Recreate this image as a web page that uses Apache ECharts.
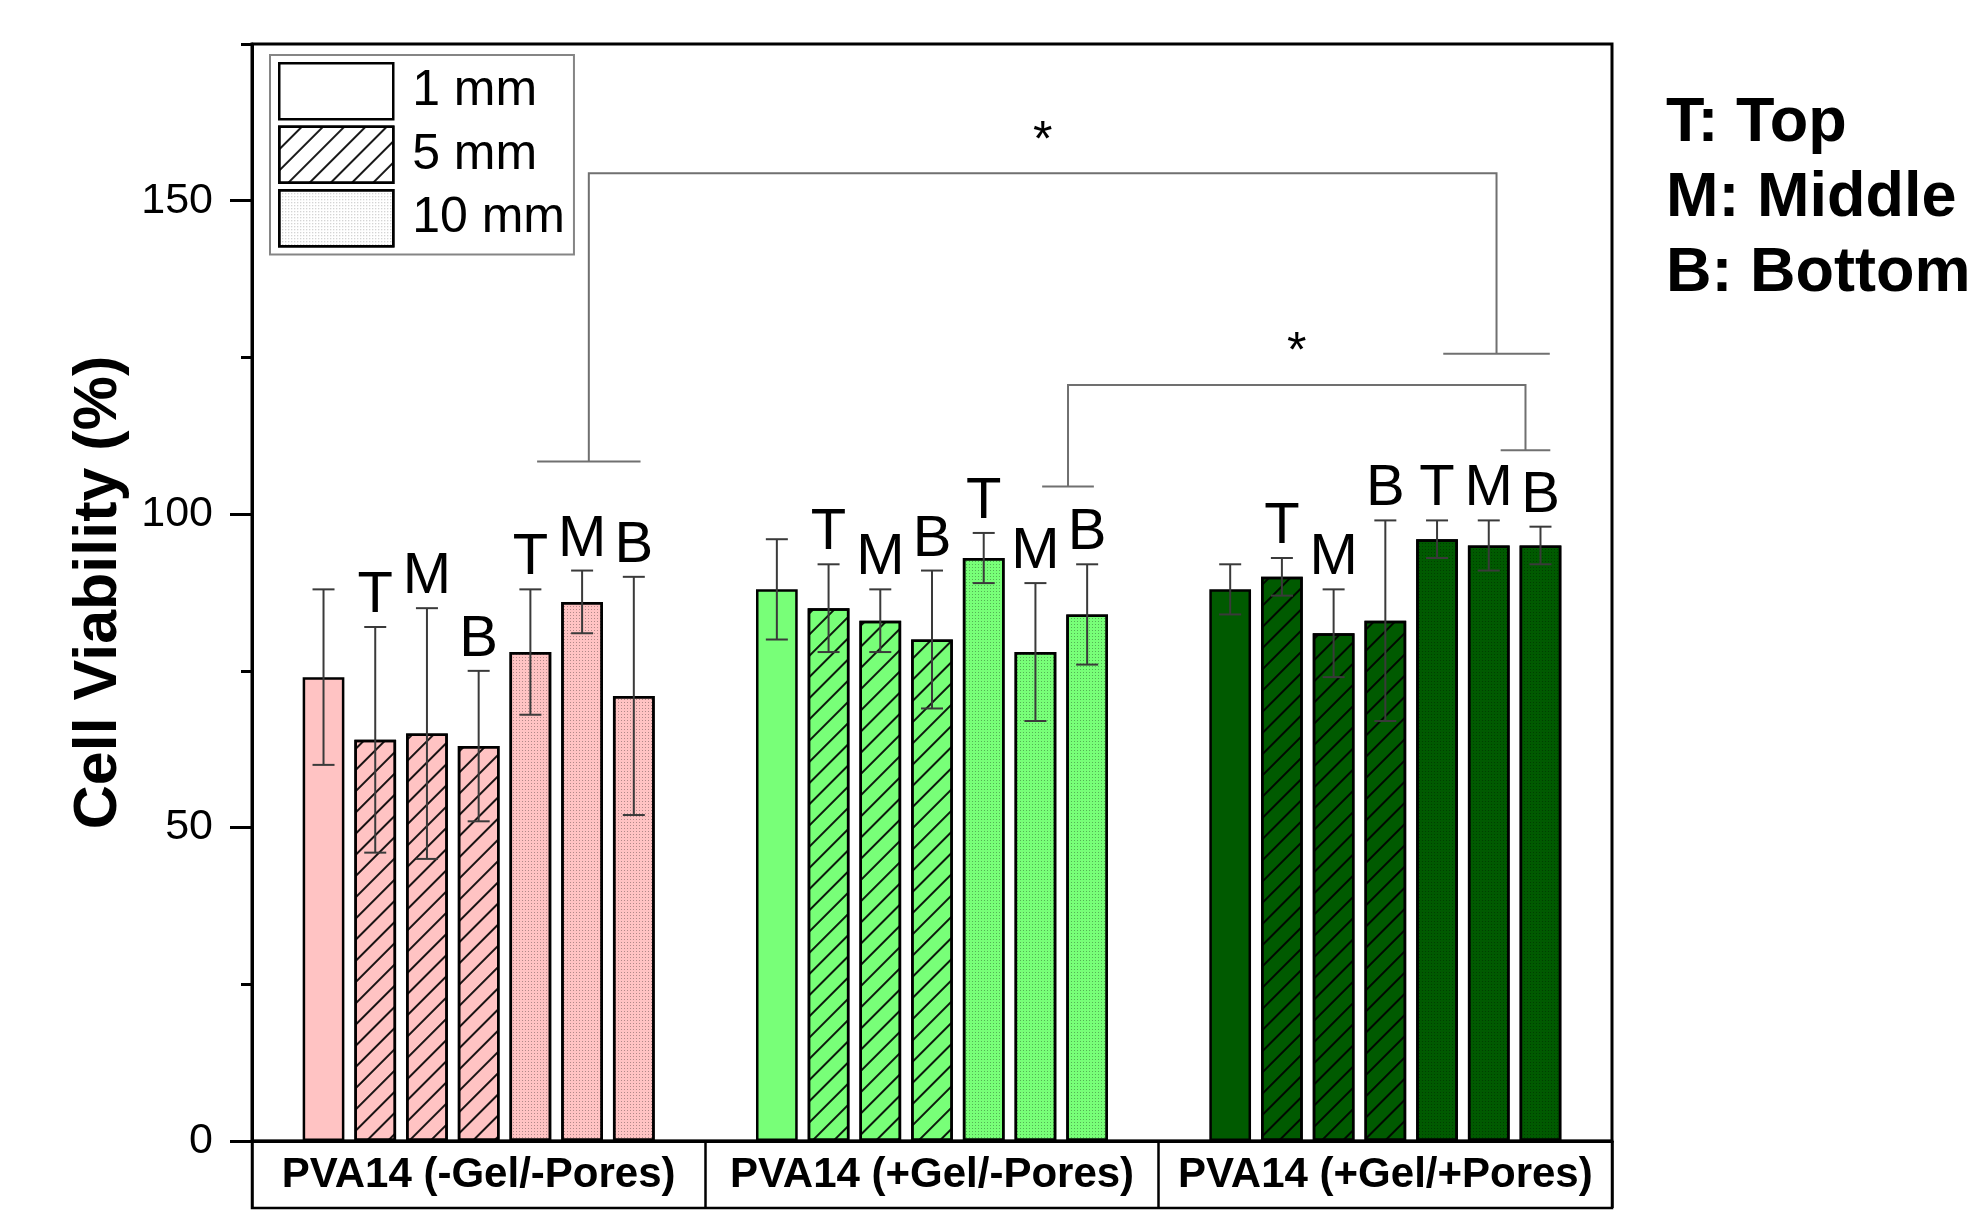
<!DOCTYPE html>
<html>
<head>
<meta charset="utf-8">
<title>Cell Viability</title>
<script src="https://cdn.jsdelivr.net/npm/echarts@6/dist/echarts.min.js"></script>
<style>
  html, body { margin: 0; padding: 0; background: #ffffff; }
  #chart { width: 1982px; height: 1210px; }
</style>
</head>
<body>
<div id="chart"></div>
<script>
// ---- data ----
const groups = ['PVA14 (-Gel/-Pores)', 'PVA14 (+Gel/-Pores)', 'PVA14 (+Gel/+Pores)'];
const thickness = ['1 mm', '5 mm', '5 mm', '5 mm', '10 mm', '10 mm', '10 mm'];
const sampleSite = ['', 'T', 'M', 'B', 'T', 'M', 'B'];

const meanNoGelNoPores = [74, 64, 65, 63, 78, 86, 71];
const sdNoGelNoPores   = [14, 18, 20, 12, 10, 5, 19];
const meanGelNoPores   = [88, 85, 83, 80, 93, 78, 84];
const sdGelNoPores     = [8, 7, 5, 11, 4, 11, 8];
const meanGelPores     = [88, 90, 81, 83, 96, 95, 95];
const sdGelPores       = [4, 3, 7, 16, 3, 4, 3];

const yMajorTicks = [0, 50, 100, 150];
const yMinorTicks = [25, 75, 125, 175];
const legendNames = ['1 mm', '5 mm', '10 mm'];
const keyLines = ['T: Top', 'M: Middle', 'B: Bottom'];

// significance brackets: ends as [group, bar slot], heights in %
const sigBrackets = [
  { left: [0, 5.13], right: [2, 5.15], top: 154.4, leftFoot: 108.4, rightFoot: 125.6, leftHalf: 1.0, rightHalf: 1.03, star: 161, mark: '*' },
  { left: [1, 5.63], right: [2, 5.71], top: 120.6, leftFoot: 104.4, rightFoot: 110.2, leftHalf: 0.5, rightHalf: 0.48, star: 127.3, mark: '*' }
];

// ---- styling ----
const FONT = "'Liberation Sans', Arial, Helvetica, sans-serif";
const groupColors = ['#ffc3c3', '#78ff78', '#005a00'];
const BAR_W = 0.092;          // bar width as share of a category band
const BAR_GAP = 0.24;         // gap as share of bar width
const SLOT = BAR_W * (1 + BAR_GAP);

const hatch = {
  symbol: 'rect', symbolSize: 1,
  dashArrayX: [1, 0], dashArrayY: [1.6, 13],
  rotation: -Math.PI / 4,
  color: 'rgba(0,0,0,0.9)'
};
const dots = {
  symbol: 'rect', symbolSize: 1,
  dashArrayX: [1, 2], dashArrayY: [1, 2],
  color: 'rgba(0,0,0,0.3)'
};
const decalFor = name => name === '5 mm' ? hatch : (name === '10 mm' ? dots : null);

const meansByGroup = [meanNoGelNoPores, meanGelNoPores, meanGelPores];
const sdsByGroup = [sdNoGelNoPores, sdGelNoPores, sdGelPores];

// ---- bar series, one per position within a group ----
const barSeries = thickness.map((name, p) => {
  const itemStyle = { borderColor: '#000', borderWidth: 2.5 };
  const d = decalFor(name);
  if (d) itemStyle.decal = d;
  return {
    type: 'bar',
    name: name,
    barWidth: (BAR_W * 100) + '%',
    barGap: (BAR_GAP * 100) + '%',
    itemStyle: itemStyle,
    data: groups.map((g, gi) => ({ value: meansByGroup[gi][p], itemStyle: { color: groupColors[gi] } })),
    z: 2
  };
});

// ---- error bars with site letters ----
const errRows = [];
groups.forEach((g, gi) => {
  thickness.forEach((t, p) => errRows.push([gi, meansByGroup[gi][p], sdsByGroup[gi][p], p]));
});

const errorSeries = {
  type: 'custom',
  name: 'error',
  z: 5,
  encode: { x: 0, y: 1 },
  data: errRows,
  renderItem: function (params, api) {
    const gi = api.value(0), mean = api.value(1), sd = api.value(2), p = api.value(3);
    const band = api.size([1, 0])[0];
    const dx = (p - 3) * band * SLOT;
    const hi = api.coord([gi, mean + sd]);
    const lo = api.coord([gi, mean - sd]);
    const x = hi[0] + dx;
    const cap = 11;
    const ls = { stroke: '#3a3a3a', lineWidth: 2 };
    const children = [
      { type: 'line', shape: { x1: x, y1: hi[1], x2: x, y2: lo[1] }, style: ls },
      { type: 'line', shape: { x1: x - cap, y1: hi[1], x2: x + cap, y2: hi[1] }, style: ls },
      { type: 'line', shape: { x1: x - cap, y1: lo[1], x2: x + cap, y2: lo[1] }, style: ls }
    ];
    if (sampleSite[p]) {
      children.push({
        type: 'text',
        style: {
          x: x, y: hi[1] - 2, text: sampleSite[p],
          font: '58px ' + FONT, fill: '#000',
          textAlign: 'center', textVerticalAlign: 'bottom'
        }
      });
    }
    return { type: 'group', children: children };
  }
};

// ---- significance brackets ----
const bracketSeries = {
  type: 'custom',
  name: 'significance',
  z: 5,
  encode: { x: 0, y: 1 },
  data: sigBrackets.map((b, i) => [b.left[0], b.top, i]),
  renderItem: function (params, api) {
    const b = sigBrackets[api.value(2)];
    const band = api.size([1, 0])[0];
    const slot = band * SLOT;
    const px = (g, pos) => api.coord([g, 0])[0] + (pos - 3) * slot;
    const py = v => api.coord([0, v])[1];
    const xl = px(b.left[0], b.left[1]);
    const xr = px(b.right[0], b.right[1]);
    const yt = py(b.top), yl = py(b.leftFoot), yr = py(b.rightFoot);
    const ls = { stroke: '#707070', lineWidth: 2, fill: null };
    return {
      type: 'group',
      children: [
        { type: 'polyline', shape: { points: [[xl, yl], [xl, yt], [xr, yt], [xr, yr]] }, style: ls },
        { type: 'line', shape: { x1: xl - b.leftHalf * slot, y1: yl, x2: xl + b.leftHalf * slot, y2: yl }, style: ls },
        { type: 'line', shape: { x1: xr - b.rightHalf * slot, y1: yr, x2: xr + b.rightHalf * slot, y2: yr }, style: ls },
        { type: 'text', style: { x: (xl + xr) / 2, y: py(b.star) + 10, text: b.mark, font: '50px ' + FONT, fill: '#000', textAlign: 'center', textVerticalAlign: 'middle' } }
      ]
    };
  }
};

const chart = echarts.init(document.getElementById('chart'), null, { renderer: 'canvas' });

const option = {
  animation: false,
  backgroundColor: '#ffffff',
  textStyle: { fontFamily: FONT },
  grid: [
    {
      left: 252, right: 370, top: 44, bottom: 69,
      show: true, borderColor: '#000', borderWidth: 3, backgroundColor: 'transparent',
      outerBoundsMode: 'none'
    },
    {
      // box that holds the group names under the plot
      left: 252, right: 370, top: 1141, height: 67,
      show: true, borderColor: '#000', borderWidth: 2.5, backgroundColor: 'transparent',
      outerBoundsMode: 'none'
    }
  ],
  legend: {
    orient: 'vertical',
    left: 270, top: 55,
    padding: [7, 9, 7, 8],
    itemWidth: 114, itemHeight: 56, itemGap: 5,
    icon: 'rect',
    backgroundColor: '#fff',
    borderColor: '#858585', borderWidth: 2, borderRadius: 0,
    formatter: name => ' ' + name,
    textStyle: { fontSize: 50, lineHeight: 54, color: '#000', fontFamily: FONT },
    data: legendNames.map(n => {
      const st = { color: '#fff', borderColor: '#000', borderWidth: 2.5 };
      const d = decalFor(n);
      if (d) st.decal = d;
      return { name: n, itemStyle: st };
    })
  },
  xAxis: [
    {
      type: 'category',
      gridIndex: 0,
      data: groups,
      position: 'bottom',
      axisLine: { show: true, lineStyle: { color: '#000', width: 3 } },
      axisTick: { show: true, inside: false, length: 67, alignWithLabel: false, interval: 0, lineStyle: { color: '#000', width: 2.5 } },
      axisLabel: { show: true, interval: 0, margin: 34, verticalAlign: 'middle', fontSize: 42, fontWeight: 'bold', color: '#000', fontFamily: FONT },
      splitLine: { show: false }
    },
    {
      type: 'value',
      gridIndex: 1,
      min: 0, max: 1,
      show: false
    }
  ],
  yAxis: [
    {
      type: 'value',
      gridIndex: 0,
      min: 0, max: 175,
      position: 'left',
      name: 'Cell Viability (%)',
      nameLocation: 'middle',
      nameGap: 122,
      nameTextStyle: { fontSize: 61, fontWeight: 'bold', color: '#000', fontFamily: FONT },
      axisLine: { show: true, lineStyle: { color: '#000', width: 3 } },
      axisTick: { show: true, inside: false, length: 22, customValues: yMajorTicks, lineStyle: { color: '#000', width: 3 } },
      axisLabel: { show: true, customValues: yMajorTicks, margin: 39, fontSize: 43, color: '#000', fontFamily: FONT },
      splitLine: { show: false }
    },
    {
      type: 'value',
      gridIndex: 0,
      min: 0, max: 175,
      position: 'left',
      axisLine: { show: false },
      axisTick: { show: true, inside: false, length: 11, customValues: yMinorTicks, lineStyle: { color: '#000', width: 3 } },
      axisLabel: { show: false },
      splitLine: { show: false }
    },
    {
      type: 'value',
      gridIndex: 1,
      min: 0, max: 1,
      show: false
    }
  ],
  graphic: [
    {
      type: 'text',
      left: 1666, top: 86,
      style: {
        text: keyLines.join('\n'),
        font: 'bold 63px ' + FONT,
        fill: '#000',
        lineHeight: 75
      }
    }
  ],
  series: barSeries.concat([errorSeries, bracketSeries])
};

chart.setOption(option);
</script>
</body>
</html>
